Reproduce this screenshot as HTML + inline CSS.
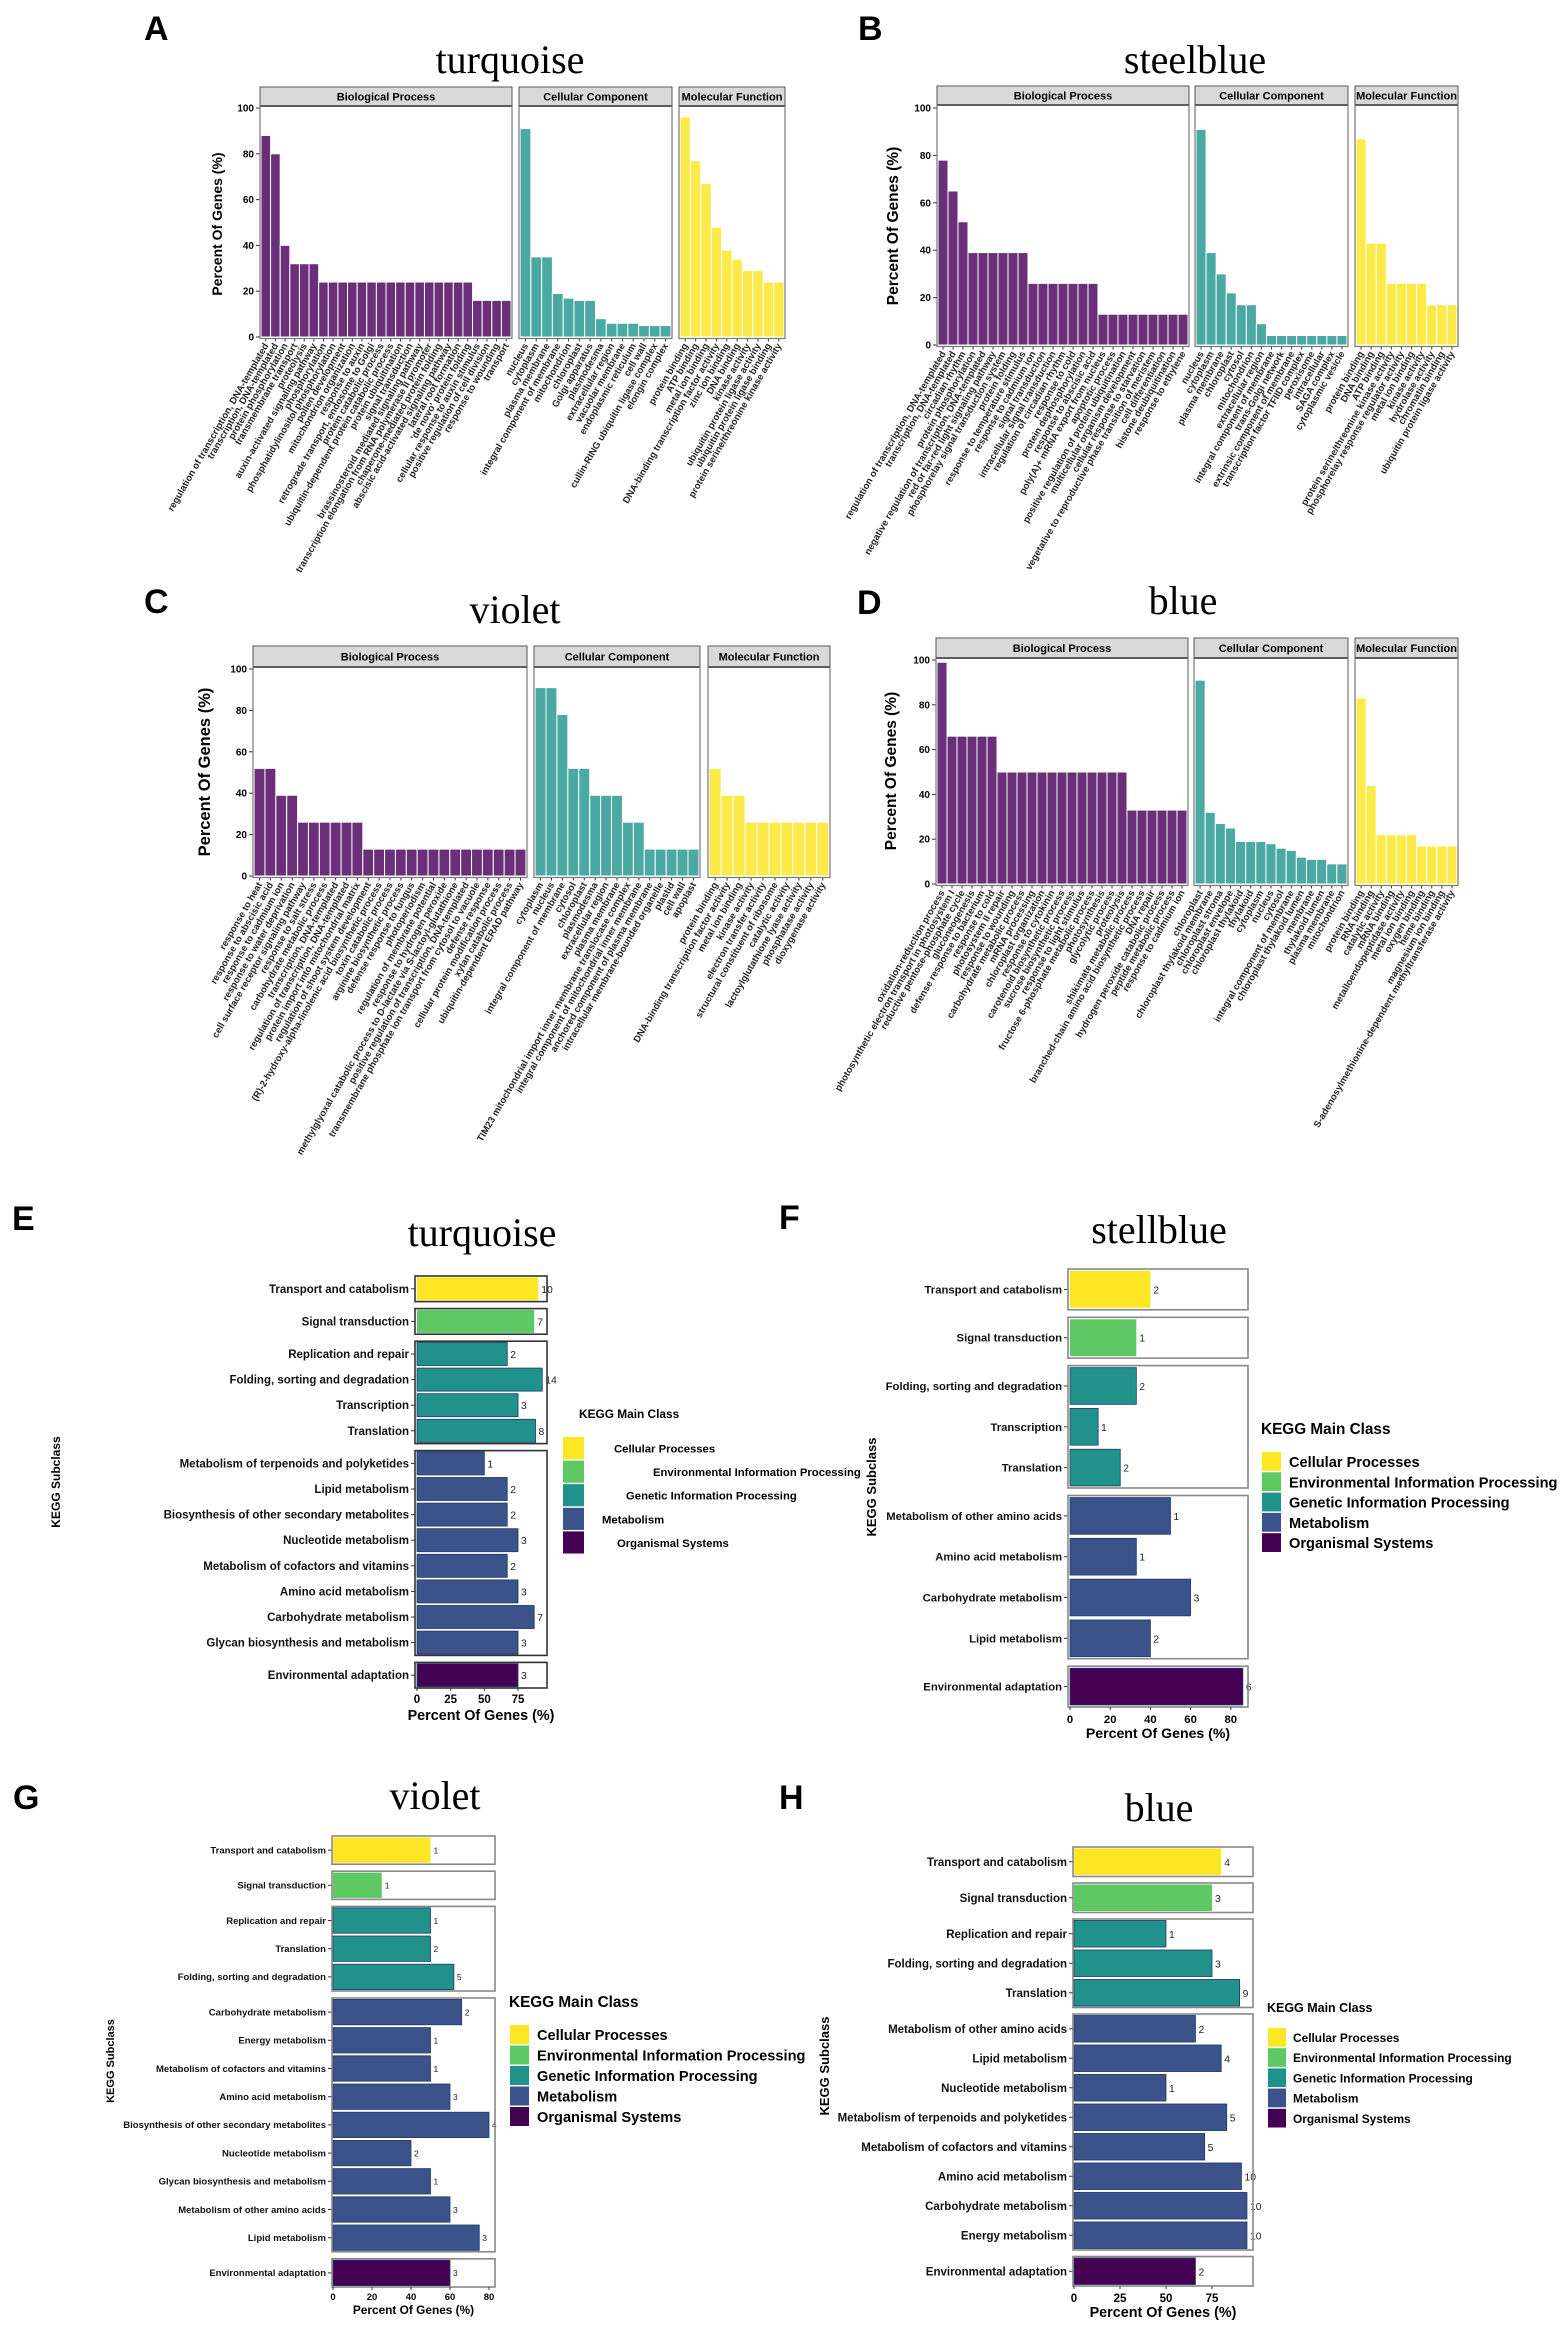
<!DOCTYPE html>
<html><head><meta charset="utf-8"><style>
html,body{margin:0;padding:0;background:#fff;}
svg{display:block;}
text{font-family:"Liberation Sans",sans-serif;}
.n{font-family:"Liberation Sans Narrow","Liberation Sans",sans-serif;}
</style></head><body>
<svg id="fig" width="1562" height="2325" viewBox="0 0 1562 2325" xmlns="http://www.w3.org/2000/svg"></svg>
<script>
// ---------- GO data ----------
const goA_BP_labels=["regulation of transcription, DNA-templated","transcription, DNA-templated","protein phosphorylation","transmembrane transport","proteolysis","auxin-activated signaling pathway","phosphorylation","phosphatidylinositol phosphorylation","pollen development","mitochondrion organization","response to auxin","retrograde transport, endosome to Golgi","protein catabolic process","ubiquitin-dependent protein catabolic process","protein ubiquitination","signal transduction","brassinosteroid mediated signaling pathway","transcription elongation from RNA polymerase II promoter","chaperone-mediated protein folding","abscisic acid-activated signaling pathway","lateral root formation","'de novo' protein folding","cellular response to auxin stimulus","positive regulation of cell division","response to wounding","transport"];
const goA_BP_values=[88,80,40,32,32,32,24,24,24,24,24,24,24,24,24,24,24,24,24,24,24,24,16,16,16,16];
const goA_CC_labels=["nucleus","cytoplasm","plasma membrane","integral component of membrane","mitochondrion","chloroplast","Golgi apparatus","plasmodesma","extracellular region","vacuolar membrane","endoplasmic reticulum","cell wall","cullin-RING ubiquitin ligase complex","elongin complex"];
const goA_CC_values=[91,35,35,19,17,16,16,8,6,6,6,5,5,5];
const goA_MF_labels=["protein binding","ATP binding","metal ion binding","DNA-binding transcription factor activity","zinc ion binding","DNA binding","kinase activity","ubiquitin protein ligase activity","ubiquitin protein ligase binding","protein serine/threonine kinase activity"];
const goA_MF_values=[96,77,67,48,38,34,29,29,24,24];

const goB_BP_labels=["regulation of transcription, DNA-templated","transcription, DNA-templated","circadian rhythm","protein phosphorylation","negative regulation of transcription, DNA-templated","red or far-red light signaling pathway","phosphorelay signal transduction system","protein folding","response to temperature stimulus","response to cadmium ion","signal transduction","intracellular signal transduction","regulation of circadian rhythm","response to cold","protein dephosphorylation","response to abscisic acid","poly(A)+ mRNA export from nucleus","apoptotic process","positive regulation of protein ubiquitination","multicellular organism development","cellular response to starvation","vegetative to reproductive phase transition of meristem","cell differentiation","histone deubiquitination","response to ethylene"];
const goB_BP_values=[78,65,52,39,39,39,39,39,39,26,26,26,26,26,26,26,13,13,13,13,13,13,13,13,13];
const goB_CC_labels=["nucleus","cytoplasm","plasma membrane","chloroplast","cytosol","mitochondrion","extracellular region","integral component of membrane","trans-Golgi network","extrinsic component of membrane","transcription factor TFIID complex","peroxisome","intracellular","SAGA complex","cytoplasmic vesicle"];
const goB_CC_values=[91,39,30,22,17,17,9,4,4,4,4,4,4,4,4];
const goB_MF_labels=["protein binding","DNA binding","ATP binding","protein serine/threonine kinase activity","phosphorelay response regulator activity","metal ion binding","kinase activity","hydrolase activity","chromatin binding","ubiquitin protein ligase activity"];
const goB_MF_values=[87,43,43,26,26,26,26,17,17,17];

const goC_BP_labels=["response to heat","response to abscisic acid","response to cadmium ion","response to water deprivation","cell surface receptor signaling pathway","response to salt stress","carbohydrate metabolic process","transcription, DNA-templated","regulation of transcription, DNA-templated","protein import into mitochondrial matrix","regulation of shoot system development","(R)-2-hydroxy-alpha-linolenic acid biosynthetic process","toxin catabolic process","arginine biosynthetic process","defense response to fungus","photoperiodism","regulation of membrane potential","response to hydrogen peroxide","methylglyoxal catabolic process to D-lactate via S-lactoyl-glutathione","positive regulation of transcription, DNA-templated","transmembrane phosphate ion transport from cytosol to vacuole","defense response","cellular protein modification process","xylan catabolic process","ubiquitin-dependent ERAD pathway"];
const goC_BP_values=[52,52,39,39,26,26,26,26,26,26,13,13,13,13,13,13,13,13,13,13,13,13,13,13,13];
const goC_CC_labels=["cytoplasm","nucleus","integral component of membrane","cytosol","chloroplast","plasmodesma","extracellular region","plasma membrane","TIM23 mitochondrial import inner membrane translocase complex","integral component of mitochondrial inner membrane","anchored component of plasma membrane","intracellular membrane-bounded organelle","plastid","cell wall","apoplast"];
const goC_CC_values=[91,91,78,52,52,39,39,39,26,26,13,13,13,13,13];
const goC_MF_labels=["protein binding","DNA-binding transcription factor activity","metal ion binding","kinase activity","electron transfer activity","structural constituent of ribosome","catalytic activity","lactoylglutathione lyase activity","phosphatase activity","dioxygenase activity"];
const goC_MF_values=[52,39,39,26,26,26,26,26,26,26];

const goD_BP_labels=["oxidation-reduction process","photosynthetic electron transport in photosystem I","reductive pentose-phosphate cycle","gluconeogenesis","defense response to bacterium","response to cold","photosystem II repair","response to wounding","carbohydrate metabolic process","mRNA processing","chloroplast organization","response to cytokinin","carotenoid biosynthetic process","sucrose biosynthetic process","response to light stimulus","fructose 6-phosphate metabolic process","photosynthesis","glycolytic process","proteolysis","shikimate metabolic process","branched-chain amino acid biosynthetic process","DNA repair","hydrogen peroxide catabolic process","peptide metabolic process","response to cadmium ion"];
const goD_BP_values=[99,66,66,66,66,66,50,50,50,50,50,50,50,50,50,50,50,50,50,33,33,33,33,33,33];
const goD_CC_labels=["chloroplast","chloroplast thylakoid membrane","chloroplast stroma","chloroplast envelope","chloroplast thylakoid","thylakoid","cytoplasm","nucleus","cytosol","integral component of membrane","chloroplast thylakoid lumen","membrane","thylakoid lumen","plasma membrane","mitochondrion"];
const goD_CC_values=[91,32,27,25,19,19,19,18,16,15,12,11,11,9,9];
const goD_MF_labels=["protein binding","RNA binding","catalytic activity","mRNA binding","metalloendopeptidase activity","metal ion binding","oxygen binding","heme binding","magnesium ion binding","S-adenosylmethionine-dependent methyltransferase activity"];
const goD_MF_values=[83,44,22,22,22,22,17,17,17,17];

const goTicks=[0,20,40,60,80,100];

// ---------- KEGG data ----------
const keggE_labels=["Transport and catabolism","Signal transduction","Replication and repair","Folding, sorting and degradation","Transcription","Translation","Metabolism of terpenoids and polyketides","Lipid metabolism","Biosynthesis of other secondary metabolites","Nucleotide metabolism","Metabolism of cofactors and vitamins","Amino acid metabolism","Carbohydrate metabolism","Glycan biosynthesis and metabolism","Environmental adaptation"];
const keggE_values=[90,87,67,93,75,88,50,67,67,75,67,75,87,75,75];
const keggE_counts=["10","7","2","14","3","8","1","2","2","3","2","3","7","3","3"];
const keggE_class=[0,1,2,2,2,2,3,3,3,3,3,3,3,3,4];
const keggE_ticks=[0,25,50,75];

const keggF_labels=["Transport and catabolism","Signal transduction","Folding, sorting and degradation","Transcription","Translation","Metabolism of other amino acids","Amino acid metabolism","Carbohydrate metabolism","Lipid metabolism","Environmental adaptation"];
const keggF_values=[40,33,33,14,25,50,33,60,40,86];
const keggF_counts=["2","1","2","1","2","1","1","3","2","6"];
const keggF_class=[0,1,2,2,2,3,3,3,3,4];
const keggF_ticks=[0,20,40,60,80];

const keggG_labels=["Transport and catabolism","Signal transduction","Replication and repair","Translation","Folding, sorting and degradation","Carbohydrate metabolism","Energy metabolism","Metabolism of cofactors and vitamins","Amino acid metabolism","Biosynthesis of other secondary metabolites","Nucleotide metabolism","Glycan biosynthesis and metabolism","Metabolism of other amino acids","Lipid metabolism","Environmental adaptation"];
const keggG_values=[50,25,50,50,62,66,50,50,60,80,40,50,60,75,60];
const keggG_counts=["1","1","1","2","5","2","1","1","3","4","2","1","3","3","3"];
const keggG_class=[0,1,2,2,2,3,3,3,3,3,3,3,3,3,4];
const keggG_ticks=[0,20,40,60,80];

const keggH_labels=["Transport and catabolism","Signal transduction","Replication and repair","Folding, sorting and degradation","Translation","Metabolism of other amino acids","Lipid metabolism","Nucleotide metabolism","Metabolism of terpenoids and polyketides","Metabolism of cofactors and vitamins","Amino acid metabolism","Carbohydrate metabolism","Energy metabolism","Environmental adaptation"];
const keggH_values=[80,75,50,75,90,66,80,50,83,71,91,94,94,66];
const keggH_counts=["4","3","1","3","9","2","4","1","5","5","10","10","10","2"];
const keggH_class=[0,1,2,2,2,3,3,3,3,3,3,3,3,4];
const keggH_ticks=[0,25,50,75];

const classNames=["Cellular Processes","Environmental Information Processing","Genetic Information Processing","Metabolism","Organismal Systems"];

const SVGNS="http://www.w3.org/2000/svg";
const svg=document.getElementById('fig');
function mk(tag,attrs,parent,txt){
  const e=document.createElementNS(SVGNS,tag);
  for(const k in attrs) e.setAttribute(k,attrs[k]);
  if(txt!==undefined) e.textContent=txt;
  (parent||svg).appendChild(e);
  return e;
}
const classColors=["#fde725","#5ec962","#21918c","#3b528b","#440154"];
const goColors=["#6a2f78","#4aa9a2","#fbea48"];

function goPanel(cfg){
  const g=mk('g',{});
  
  
  const L=mk('text',{x:cfg.lx,y:cfg.ly,'font-size':34,'font-weight':'bold'},g,cfg.letter);
  
  
  const T=mk('text',{x:cfg.tx,y:cfg.ty,'font-size':40,'text-anchor':'middle',style:'font-family:"Liberation Serif",serif'},g,cfg.title);
  
  
  const yv=v=>cfg.y0-v*(cfg.y0-cfg.y100)/100;
  const boxTop=cfg.stripTop+cfg.stripH, boxBot=cfg.y0+1.5;
  const ax=cfg.facets[0].x0;
  goTicks.forEach(t=>{
    mk('line',{x1:ax-4,x2:ax,y1:yv(t),y2:yv(t),stroke:'#333','stroke-width':1},g);
    const tt=mk('text',{x:ax-6,y:yv(t)+3.5,'font-size':10,'font-weight':'bold','text-anchor':'end','class':'n'},g,String(t));
    
    
  });
  const yl=mk('text',{x:cfg.ylx,y:cfg.yly,'font-size':cfg.ylf,'font-weight':'bold','text-anchor':'middle',transform:`rotate(-90 ${cfg.ylx} ${cfg.yly})`},g,'Percent Of Genes (%)');
  
  
  cfg.facets.forEach((f,fi)=>{
    const st=mk('rect',{x:f.x0,y:cfg.stripTop,width:f.x1-f.x0,height:cfg.stripH,fill:'#d9d9d9',stroke:'#555','stroke-width':1},g);
    
    
    const sl=mk('text',{x:(f.x0+f.x1)/2,y:cfg.stripTop+cfg.stripH/2+4,'font-size':11,'font-weight':'bold','text-anchor':'middle','class':'n'},g,f.name);
    
    
    mk('line',{x1:f.x0,x2:f.x1,y1:boxTop,y2:boxTop,stroke:'#333','stroke-width':2},g);
    const n=f.values.length, band=(f.x1-f.x0)/(n+0.2);
    f.values.forEach((v,i)=>{
      const cx=f.x0+(i+0.6)*band;
      const r=mk('rect',{x:cx-band/2,y:yv(v),width:band,height:cfg.y0-yv(v),fill:goColors[fi],stroke:'#fff','stroke-width':1},g);
      
      
      mk('line',{x1:cx,x2:cx,y1:boxBot,y2:boxBot+3,stroke:'#333','stroke-width':1},g);
      const lab=mk('text',{x:cx+3,y:boxBot+7,'font-size':9.5,'font-weight':'bold','text-anchor':'end',fill:'#222',transform:`rotate(-60 ${cx+3} ${boxBot+7})`},g,f.labels[i]);
      
      
    });
    const pb=mk('rect',{x:f.x0,y:boxTop,width:f.x1-f.x0,height:boxBot-boxTop,fill:'none',stroke:'#777','stroke-width':1.2},g);
    
    
  });
}

function keggPanel(cfg){
  const g=mk('g',{});
  
  
  const L=mk('text',{x:cfg.lx,y:cfg.ly,'font-size':34,'font-weight':'bold'},g,cfg.letter);
  
  
  const T=mk('text',{x:cfg.tx,y:cfg.ty,'font-size':40,'text-anchor':'middle',style:'font-family:"Liberation Serif",serif'},g,cfg.title);
  
  
  const xv=v=>cfg.x0+v*cfg.k;
  const groups=[];
  cfg.cls.forEach((c,i)=>{ if(!groups.length||groups[groups.length-1].c!==c) groups.push({c,rows:[]}); groups[groups.length-1].rows.push(i); });
  let y=cfg.top;
  groups.forEach(gr=>{
    const h=gr.rows.length*cfg.rowH;
    gr.rows.forEach((ri,j)=>{
      const cy=y+(j+0.5)*cfg.rowH, bh=cfg.rowH*0.9;
      const r=mk('rect',{x:cfg.x0,y:cy-bh/2,width:xv(cfg.values[ri])-cfg.x0,height:bh,fill:classColors[cfg.cls[ri]],stroke:cfg.cls[ri]>=2?'#1e3a6a':'none','stroke-width':cfg.cls[ri]>=2?0.8:0},g);
      
      
      const c=mk('text',{x:xv(cfg.values[ri])+3,y:cy+cfg.fs*0.35,'font-size':cfg.fs*0.9,'class':'n',fill:'#222'},g,cfg.counts[ri]);
      
      
      mk('line',{x1:cfg.bx0-4,x2:cfg.bx0,y1:cy,y2:cy,stroke:'#333','stroke-width':1},g);
      const lab=mk('text',{x:cfg.bx0-6,y:cy+cfg.fs*0.35,'font-size':cfg.fs,'font-weight':'bold','text-anchor':'end','class':'n',fill:'#111'},g,cfg.labels[ri]);
      
      
    });
    const b=mk('rect',{x:cfg.bx0,y:y,width:cfg.bx1-cfg.bx0,height:h,fill:'none',stroke:cfg.bc,'stroke-width':1.6},g);
    
    
    y+=h+cfg.gap;
  });
  const axY=y-cfg.gap;
  cfg.ticks.forEach(t=>{
    mk('line',{x1:xv(t),x2:xv(t),y1:axY,y2:axY+3,stroke:'#333','stroke-width':1},g);
    const tt=mk('text',{x:xv(t),y:cfg.tickY,'font-size':cfg.fs,'font-weight':'bold','text-anchor':'middle','class':'n'},g,String(t));
    
    
  });
  const xt=mk('text',{x:(cfg.bx0+cfg.bx1)/2,y:cfg.xtY,'font-size':cfg.fs*1.25,'font-weight':'bold','text-anchor':'middle','class':'n'},g,'Percent Of Genes (%)');
  
  
  const yl=mk('text',{x:cfg.ylx,y:cfg.yly,'font-size':cfg.ylf,'font-weight':'bold','text-anchor':'middle',transform:`rotate(-90 ${cfg.ylx} ${cfg.yly})`},g,'KEGG Subclass');
  
  
  const lg=mk('g',{},g);
  
  
  const lt=mk('text',{x:cfg.leg.tx,y:cfg.leg.ty,'font-size':cfg.leg.fs*1.05,'font-weight':'bold','class':'n'},lg,'KEGG Main Class');
  
  
  classNames.forEach((nm,i)=>{
    const sy=cfg.leg.sy+i*cfg.leg.step;
    const s=mk('rect',{x:cfg.leg.sx,y:sy,width:cfg.leg.sw,height:cfg.leg.step-1.5,fill:classColors[i]},lg);
    
    
    const t=mk('text',{x:cfg.leg.lx[i],y:sy+cfg.leg.step/2+cfg.leg.fs*0.33,'font-size':cfg.leg.fs,'font-weight':'bold','class':'n'},lg,nm);
    
    
  });
}

goPanel({id:'panel-a-go-turquoise',letter:'A',lx:144,ly:40,title:'turquoise',tx:510,ty:73,stripTop:87,stripH:19,y0:337,y100:108,ylx:222,yly:224,ylf:14,
 facets:[{name:'Biological Process',x0:260,x1:512,labels:goA_BP_labels,values:goA_BP_values},
 {name:'Cellular Component',x0:519,x1:672,labels:goA_CC_labels,values:goA_CC_values},
 {name:'Molecular Function',x0:679,x1:785,labels:goA_MF_labels,values:goA_MF_values}]});
goPanel({id:'panel-b-go-steelblue',letter:'B',lx:858,ly:40,title:'steelblue',tx:1195,ty:73,stripTop:86,stripH:19,y0:345,y100:108,ylx:898,yly:226,ylf:15.5,
 facets:[{name:'Biological Process',x0:937,x1:1189,labels:goB_BP_labels,values:goB_BP_values},
 {name:'Cellular Component',x0:1195,x1:1348,labels:goB_CC_labels,values:goB_CC_values},
 {name:'Molecular Function',x0:1355,x1:1458,labels:goB_MF_labels,values:goB_MF_values}]});
goPanel({id:'panel-c-go-violet',letter:'C',lx:144,ly:613,title:'violet',tx:515,ty:623,stripTop:646,stripH:21,y0:876,y100:669,ylx:210,yly:772,ylf:16.5,
 facets:[{name:'Biological Process',x0:253,x1:527,labels:goC_BP_labels,values:goC_BP_values},
 {name:'Cellular Component',x0:534,x1:700,labels:goC_CC_labels,values:goC_CC_values},
 {name:'Molecular Function',x0:708,x1:830,labels:goC_MF_labels,values:goC_MF_values}]});
goPanel({id:'panel-d-go-blue',letter:'D',lx:857,ly:614,title:'blue',tx:1183,ty:614,stripTop:638,stripH:20,y0:884,y100:660,ylx:896,yly:771,ylf:15.5,
 facets:[{name:'Biological Process',x0:936,x1:1188,labels:goD_BP_labels,values:goD_BP_values},
 {name:'Cellular Component',x0:1194,x1:1348,labels:goD_CC_labels,values:goD_CC_values},
 {name:'Molecular Function',x0:1355,x1:1458,labels:goD_MF_labels,values:goD_MF_values}]});

keggPanel({id:'panel-e-kegg-turquoise',letter:'E',lx:12,ly:1230,title:'turquoise',tx:482,ty:1246,
 labels:keggE_labels,values:keggE_values,counts:keggE_counts,cls:keggE_class,ticks:keggE_ticks,
 x0:417,k:1.347,bx0:415,bx1:547,top:1276,rowH:25.6,gap:7,fs:11.5,bc:'#333',tickY:1703,xtY:1720,ylx:60,yly:1482,ylf:12,
 leg:{tx:579,ty:1418,fs:11.3,sx:563,sw:21,sy:1437,step:23.6,lx:[614,653,626,602,617]}});
keggPanel({id:'panel-f-kegg-steelblue',letter:'F',lx:779,ly:1229,title:'stellblue',tx:1159,ty:1243,
 labels:keggF_labels,values:keggF_values,counts:keggF_counts,cls:keggF_class,ticks:keggF_ticks,
 x0:1070,k:2.01,bx0:1068,bx1:1248,top:1269,rowH:40.8,gap:7.5,fs:11.3,bc:'#888',tickY:1723,xtY:1738,ylx:876,yly:1487,ylf:13,
 leg:{tx:1261,ty:1434,fs:14.6,sx:1262,sw:19,sy:1452,step:20.3,lx:[1289,1289,1289,1289,1289]}});
keggPanel({id:'panel-g-kegg-violet',letter:'G',lx:13,ly:1809,title:'violet',tx:435,ty:1809,
 labels:keggG_labels,values:keggG_values,counts:keggG_counts,cls:keggG_class,ticks:keggG_ticks,
 x0:333,k:1.95,bx0:332,bx1:495,top:1836,rowH:28.2,gap:7,fs:9.5,bc:'#888',tickY:2300,xtY:2314,ylx:114,yly:2061,ylf:11,
 leg:{tx:509,ty:2007,fs:14.6,sx:510,sw:19,sy:2025,step:20.5,lx:[537,537,537,537,537]}});
keggPanel({id:'panel-h-kegg-blue',letter:'H',lx:779,ly:1809,title:'blue',tx:1159,ty:1821,
 labels:keggH_labels,values:keggH_values,counts:keggH_counts,cls:keggH_class,ticks:keggH_ticks,
 x0:1074,k:1.84,bx0:1073,bx1:1253,top:1847,rowH:29.5,gap:6.5,fs:11.5,bc:'#888',tickY:2302,xtY:2317,ylx:829,yly:2066,ylf:13,
 leg:{tx:1267,ty:2012,fs:11.9,sx:1268,sw:18,sy:2028,step:20.2,lx:[1293,1293,1293,1293,1293]}});
</script>
</body></html>
